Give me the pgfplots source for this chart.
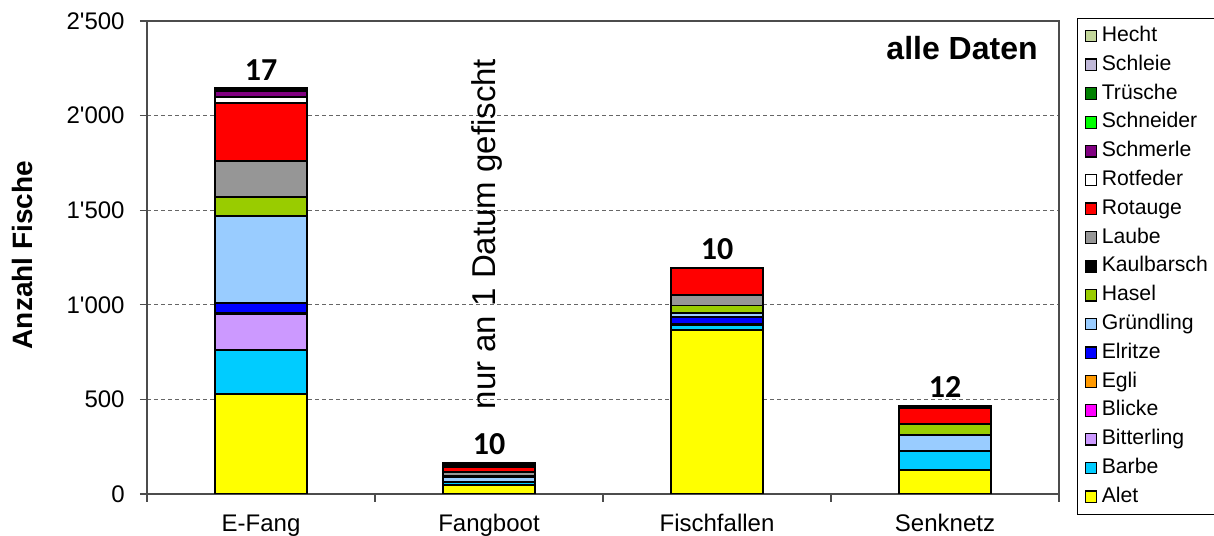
\documentclass[border=0pt]{standalone}
\usepackage{pgfplots}
\pgfplotsset{compat=1.18}
\usepackage{fontspec}
\setmainfont{Liberation Sans}
\newfontfamily\carlito{Carlito}
\definecolor{cAlet}{HTML}{FFFF00}
\definecolor{cBarbe}{HTML}{00CCFF}
\definecolor{cBitterling}{HTML}{CC99FF}
\definecolor{cBlicke}{HTML}{FF00FF}
\definecolor{cEgli}{HTML}{FF9900}
\definecolor{cElritze}{HTML}{0000FF}
\definecolor{cGruendling}{HTML}{99CCFF}
\definecolor{cHasel}{HTML}{99CC00}
\definecolor{cKaulbarsch}{HTML}{000000}
\definecolor{cLaube}{HTML}{969696}
\definecolor{cRotauge}{HTML}{FF0000}
\definecolor{cRotfeder}{HTML}{FFFFFF}
\definecolor{cSchmerle}{HTML}{800080}
\definecolor{cSchneider}{HTML}{00FF00}
\definecolor{cTruesche}{HTML}{008000}
\definecolor{cSchleie}{HTML}{C0B8D8}
\definecolor{cHecht}{HTML}{C3D69B}
\begin{document}
\begin{tikzpicture}
\useasboundingbox (-73.5pt,-20.5pt) rectangle (533.5pt,247pt);
\begin{axis}[
  at={(0,0)}, anchor=south west,
  scale only axis, width=456pt, height=236.5pt,
  ybar stacked, bar width=46pt,
  xmin=-0.5, xmax=3.5, ymin=0, ymax=2500,
  xtick={0,1,2,3},
  xticklabels={E-Fang,Fangboot,Fischfallen,Senknetz},
  major x tick style={draw=none},
  minor xtick={-0.5,0.5,1.5,2.5,3.5},
  minor tick length=4pt,
  major tick length=3.5pt,
  ytick={0,500,1000,1500,2000,2500},
  yticklabels={0,500,1\textquotesingle000,1\textquotesingle500,2\textquotesingle000,2\textquotesingle500},
  tick align=outside, tick pos=left,
  tick style={draw=gray!60!black, line width=0.6pt},
  ticklabel style={font=\fontsize{12}{14}\selectfont},
  xticklabel style={anchor=base, yshift=-15.5pt},
  yticklabel style={anchor=east, inner sep=0pt, xshift=-7.5pt},
  axis line style={draw=gray!60!black, line width=0.6pt},
  ymajorgrids,
  major grid style={draw=gray!80!black, line width=0.5pt, dash pattern=on 2pt off 1.5pt},
  ylabel={\bfseries Anzahl Fische},
  ylabel style={font=\fontsize{14}{16}\selectfont, at={(axis description cs:-0.137,0.505)}, anchor=center},
  every axis plot/.append style={draw=black, line width=0.9pt},
  every axis plot post/.append style={legend image code/.code={\draw[#1,draw=black,line width=0.6pt] (0pt,-2.9pt) rectangle (5.8pt,2.9pt);}},
  reverse legend,
  legend cell align=left,
  legend style={at={(axis description cs:1.0197,1.0063)}, anchor=north west,
    draw=black, line width=0.6pt, fill=white,
    font=\fontsize{10.6}{12}\selectfont,
    inner xsep=3.5pt, inner ysep=1.5pt, row sep=0pt, column sep=0pt,
    nodes={text height=7.7pt, text depth=2.3pt, inner ysep=2.2pt, inner xsep=2.2pt}},
]
\addplot[fill=cAlet] coordinates {(0,530) (1,48) (2,865) (3,127)};
\addplot[fill=cBarbe] coordinates {(0,231) (1,15) (2,30) (3,100)};
\addplot[fill=cBitterling] coordinates {(0,189) (1,0) (2,0) (3,0)};
\addplot[fill=cBlicke] coordinates {(0,0) (1,0) (2,0) (3,0)};
\addplot[fill=cEgli] coordinates {(0,8) (1,0) (2,4) (3,0)};
\addplot[fill=cElritze] coordinates {(0,50) (1,0) (2,36) (3,0)};
\addplot[fill=cGruendling] coordinates {(0,463) (1,27) (2,20) (3,83)};
\addplot[fill=cHasel] coordinates {(0,97) (1,0) (2,41) (3,60)};
\addplot[fill=cKaulbarsch] coordinates {(0,0) (1,5) (2,0) (3,0)};
\addplot[fill=cLaube] coordinates {(0,191) (1,22) (2,56) (3,0)};
\addplot[fill=cRotauge] coordinates {(0,306) (1,27) (2,141) (3,86)};
\addplot[fill=cRotfeder] coordinates {(0,35) (1,8) (2,0) (3,5)};
\addplot[fill=cSchmerle] coordinates {(0,27) (1,8) (2,0) (3,3)};
\addplot[fill=cSchneider] coordinates {(0,0) (1,0) (2,0) (3,0)};
\addplot[fill=cTruesche] coordinates {(0,7) (1,5) (2,0) (3,0)};
\addplot[fill=cSchleie] coordinates {(0,5) (1,0) (2,0) (3,2)};
\addplot[fill=cHecht] coordinates {(0,5) (1,0) (2,0) (3,2)};
\legend{Alet,Barbe,Bitterling,Blicke,Egli,Elritze,Gründling,Hasel,Kaulbarsch,Laube,Rotauge,Rotfeder,Schmerle,Schneider,Trüsche,Schleie,Hecht}
\node[anchor=base, inner sep=0pt, font=\carlito\bfseries\fontsize{16}{18}\selectfont] at (axis cs:0,2150) [yshift=3.5pt] {17};
\node[anchor=base, inner sep=0pt, font=\carlito\bfseries\fontsize{16}{18}\selectfont] at (axis cs:1,165) [yshift=4pt] {10};
\node[anchor=base, inner sep=0pt, font=\carlito\bfseries\fontsize{16}{18}\selectfont] at (axis cs:2,1197) [yshift=4pt] {10};
\node[anchor=base, inner sep=0pt, font=\carlito\bfseries\fontsize{16}{18}\selectfont] at (axis cs:3,466) [yshift=4pt] {12};
\node[anchor=east, inner sep=0pt, font=\bfseries\fontsize{16}{19}\selectfont] at (axis description cs:0.977,0.943) {alle Daten};
\node[rotate=90, anchor=center, inner sep=0pt, font=\fontsize{16.5}{19}\selectfont] at (axis cs:0.991,1374) {nur an 1 Datum gefischt};
\end{axis}
\end{tikzpicture}
\end{document}
